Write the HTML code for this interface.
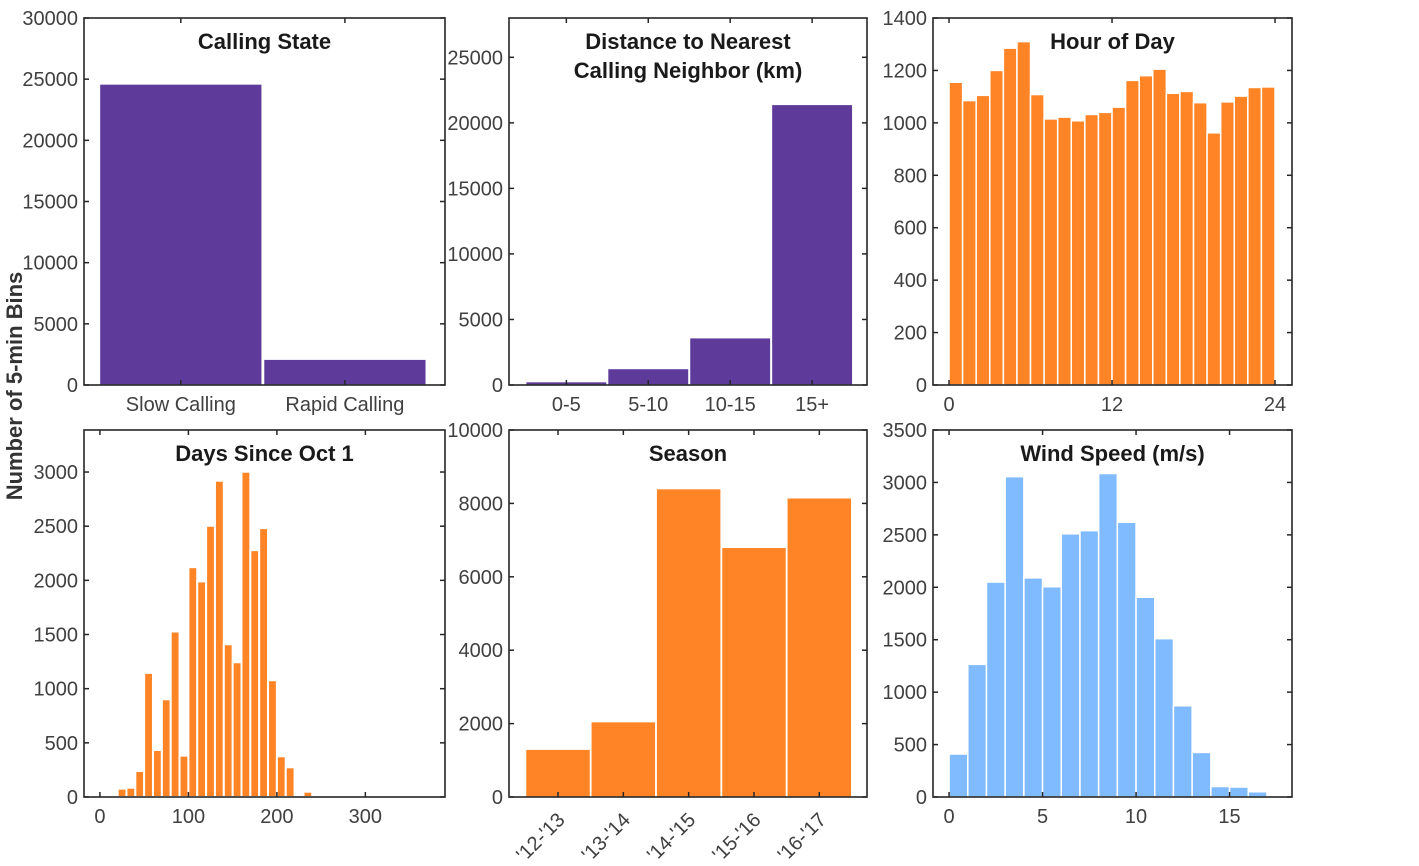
<!DOCTYPE html>
<html><head><meta charset="utf-8"><style>
body{margin:0;background:#fff;}
svg{display:block;font-family:"Liberation Sans",Arial,sans-serif;}
.tl{font-size:20px;fill:#404040;}
.tt{font-size:22px;font-weight:bold;fill:#1a1a1a;}
</style></head><body>
<svg id="c" width="1419" height="866" viewBox="0 0 1419 866" xmlns="http://www.w3.org/2000/svg">
<text transform="translate(22,386) rotate(-90)" text-anchor="middle" font-size="22" font-weight="bold" fill="#333">Number of 5-min Bins</text>
</svg>
<script>
// Data
const callingCats = ["Slow Calling","Rapid Calling"];
const callingVals = [24600, 2100];
const distCats = ["0-5","5-10","10-15","15+"];
const distVals = [250, 1250, 3600, 21400];
const hourVals = [1155,1085,1105,1200,1285,1310,1108,1015,1022,1008,1032,1040,1060,1162,1180,1205,1113,1120,1077,962,1080,1102,1135,1137];
const dayBinStart = 20;
const dayVals = [77,86,240,1146,434,902,1528,382,2122,1990,2504,2920,1410,1244,3003,2279,2482,1078,376,274,0,49];
const seasonCats = ["'12-'13","'13-'14","'14-'15","'15-'16","'16-'17"];
const seasonVals = [1300,2050,8400,6800,8150];
const windVals = [410,1265,2050,3055,2090,2005,2510,2540,3085,2620,1905,1510,870,425,100,95,50];

const svg = document.getElementById('c');
const NS = 'http://www.w3.org/2000/svg';
function mk(tag, attrs){const e=document.createElementNS(NS,tag);for(const k in attrs)e.setAttribute(k,attrs[k]);svg.appendChild(e);return e;}

function panel(p){
  const sx = v => p.x0 + (v - p.xlim[0])/(p.xlim[1]-p.xlim[0])*(p.x1-p.x0);
  const sy = v => p.y1 - (v - p.ylim[0])/(p.ylim[1]-p.ylim[0])*(p.y1-p.y0);
  p.bars.forEach((b)=>{
    const x=sx(b.c-b.w/2), x2=sx(b.c+b.w/2), y=sy(b.v);
    const r=mk('rect',{x:x,y:y,width:x2-x,height:sy(0)-y,fill:p.color,stroke:'#fff','stroke-width':p.sw||1.2});
    
    
  });
  const bx=mk('rect',{x:p.x0,y:p.y0,width:p.x1-p.x0,height:p.y1-p.y0,fill:'none',stroke:'#262626','stroke-width':1.6});
  
  
  p.yticks.forEach(t=>{
    const y=sy(t);
    mk('line',{x1:p.x0,x2:p.x0+5,y1:y,y2:y,stroke:'#262626','stroke-width':1.5});
    mk('line',{x1:p.x1,x2:p.x1-5,y1:y,y2:y,stroke:'#262626','stroke-width':1.5});
    const tx=mk('text',{x:p.x0-6,y:y+7,'text-anchor':'end',class:'tl'});
    tx.textContent=t;
    
    
  });
  p.xticks.forEach((t,i)=>{
    const x=sx(t);
    mk('line',{x1:x,x2:x,y1:p.y1,y2:p.y1-5,stroke:'#262626','stroke-width':1.5});
    mk('line',{x1:x,x2:x,y1:p.y0,y2:p.y0+5,stroke:'#262626','stroke-width':1.5});
    let tx;
    if(p.rot){
      tx=mk('text',{x:0,y:0,'text-anchor':'end',class:'tl',transform:'translate('+(x+8)+','+(p.y1+24)+') rotate(-45)'});
    } else {
      tx=mk('text',{x:x,y:p.y1+26,'text-anchor':'middle',class:'tl'});
    }
    tx.textContent=p.xlabels[i];
    
    
  });
  p.title.forEach((line,i)=>{
    const tx=mk('text',{x:(p.x0+p.x1)/2,y:p.y0+31+i*29,'text-anchor':'middle',class:'tt'});
    tx.textContent=line;
    
    
  });
}

const T0=18,T1=385,B0=430,B1=797;
panel({name:'calling-state',x0:84,x1:445,y0:T0,y1:T1,xlim:[0.41,2.61],ylim:[0,30000],color:'#5e3a9a',
  bars:callingVals.map((v,i)=>({c:i+1,w:0.99,v:v})),yticks:[0,5000,10000,15000,20000,25000,30000],
  xticks:callingCats.map((c,i)=>i+1),xlabels:callingCats,title:['Calling State']});
panel({name:'distance',x0:509,x1:867,y0:T0,y1:T1,xlim:[0.3,4.67],ylim:[0,28000],color:'#5e3a9a',
  bars:distVals.map((v,i)=>({c:i+1,w:0.99,v:v})),yticks:[0,5000,10000,15000,20000,25000],
  xticks:distCats.map((c,i)=>i+1),xlabels:distCats,title:['Distance to Nearest','Calling Neighbor (km)']});
panel({name:'hour-of-day',x0:933,x1:1292,y0:T0,y1:T1,xlim:[-1.18,25.25],ylim:[0,1400],color:'#ff8426',
  bars:hourVals.map((v,i)=>({c:i+0.5,w:1,v:v})),sw:1.5,yticks:[0,200,400,600,800,1000,1200,1400],
  xticks:[0,12,24],xlabels:['0','12','24'],title:['Hour of Day']});
panel({name:'days-since-oct1',x0:84,x1:445,y0:B0,y1:B1,xlim:[-18,390],ylim:[0,3388],color:'#ff8426',
  bars:dayVals.map((v,i)=>({c:dayBinStart+i*10+5,w:10,v:v})),sw:2,yticks:[0,500,1000,1500,2000,2500,3000],
  xticks:[0,100,200,300],xlabels:['0','100','200','300'],title:['Days Since Oct 1']});
panel({name:'season',x0:509,x1:867,y0:B0,y1:B1,xlim:[0.25,5.73],ylim:[0,10000],color:'#ff8426',
  bars:seasonVals.map((v,i)=>({c:i+1,w:0.99,v:v})),yticks:[0,2000,4000,6000,8000,10000],
  xticks:seasonCats.map((c,i)=>i+1),xlabels:seasonCats,rot:true,title:['Season']});
panel({name:'wind-speed',x0:933,x1:1292,y0:B0,y1:B1,xlim:[-0.86,18.34],ylim:[0,3500],color:'#80bbff',
  bars:windVals.map((v,i)=>({c:i+0.5,w:1,v:v})),sw:1.5,yticks:[0,500,1000,1500,2000,2500,3000,3500],
  xticks:[0,5,10,15],xlabels:['0','5','10','15'],title:['Wind Speed (m/s)']});
</script>
</body></html>
